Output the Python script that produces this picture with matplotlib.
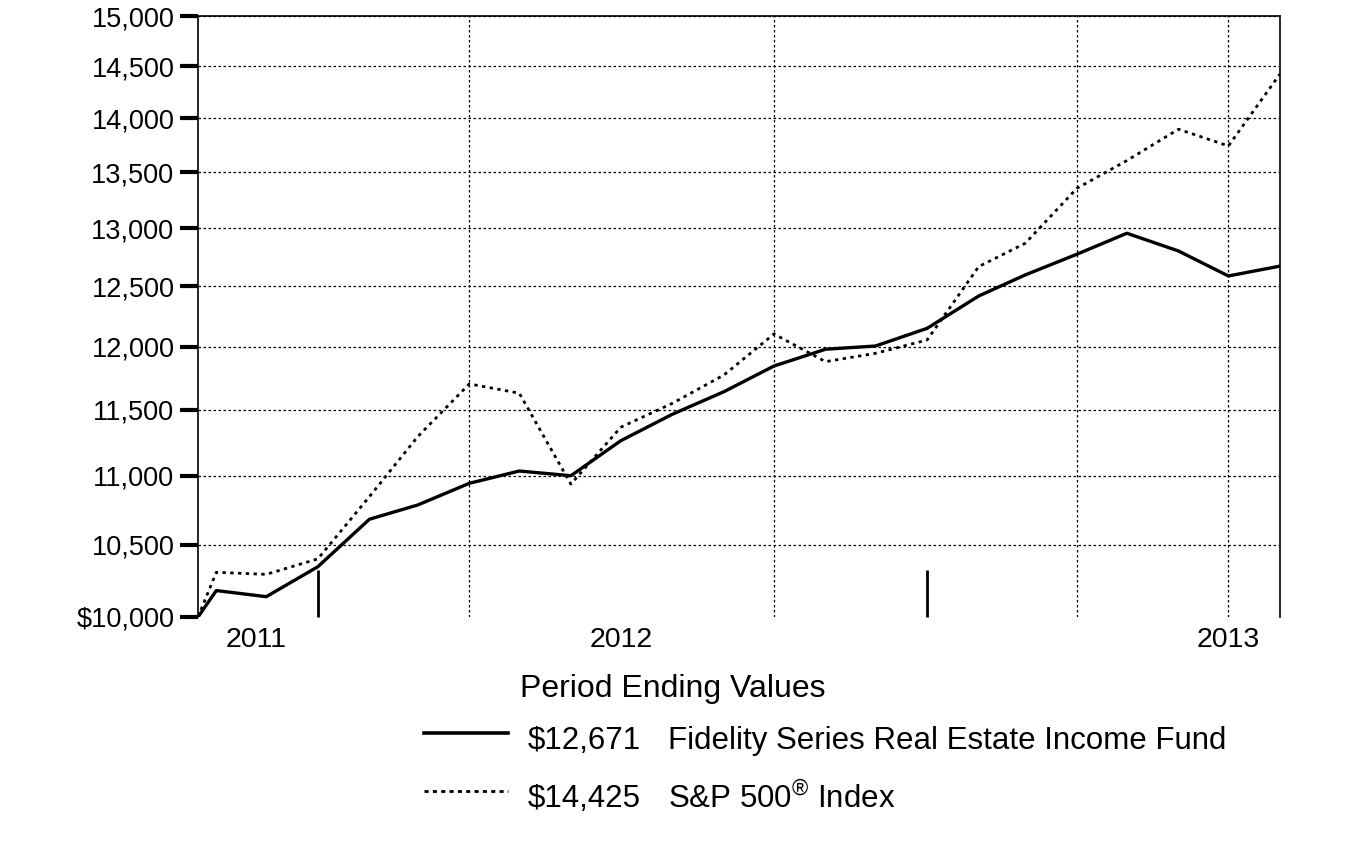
import matplotlib
matplotlib.use("Agg")
import matplotlib.pyplot as plt
import matplotlib.dates as mdates
from matplotlib.lines import Line2D
from matplotlib.ticker import FixedLocator, FuncFormatter
import pandas as pd

# ---- data -------------------------------------------------------
dates = pd.to_datetime(
    ["2011-10-20"]
    + [str(d.date()) for d in pd.date_range("2011-10-31", "2013-07-31", freq="ME")]
)

fund = [10000, 10180, 10138, 10345, 10682, 10785, 10944, 11035, 11000, 11263,
        11466, 11642, 11845, 11980, 12006, 12150, 12418, 12596, 12773, 12955,
        12801, 12587, 12671]
sp500 = [10000, 10306, 10292, 10400, 10846, 11294, 11703, 11630, 10938, 11366,
         11551, 11774, 12104, 11880, 11947, 12055, 12667, 12868, 13354, 13606,
         13897, 13741, 14425]

fund_name = "Fidelity Series Real Estate Income Fund"
index_name = r"S&P 500$^{\circledR}$ Index"

y_ticks = [10000, 10500, 11000, 11500, 12000, 12500, 13000, 13500, 14000, 14500, 15000]
grid_dates = pd.to_datetime(["2011-12-31", "2012-03-31", "2012-09-30",
                             "2012-12-31", "2013-03-31", "2013-06-30"])
year_ticks = pd.to_datetime(["2011-12-31", "2012-12-31"])
year_labels = ["2011", "2012", "2013"]
year_label_dates = pd.to_datetime(["2011-11-24", "2012-06-30", "2013-06-30"])

# ---- figure -----------------------------------------------------
plt.rcParams["font.family"] = ["Liberation Sans", "DejaVu Sans"]
plt.rcParams["mathtext.fontset"] = "custom"
plt.rcParams["mathtext.rm"] = "Liberation Sans"
plt.rcParams["mathtext.it"] = "Liberation Sans"

fig = plt.figure(figsize=(13.55, 8.43), dpi=100)
ax = fig.add_axes([198 / 1355, 1 - 617 / 843, (1280 - 198) / 1355, (617 - 16) / 843])

ax.plot(dates, fund, color="black", lw=2.4, solid_joinstyle="round", zorder=4)
ax.plot(dates, sp500, color="black", lw=2.0, linestyle=(0, (1.2, 1.6)), zorder=3)

ax.set_yscale("log")
ax.set_ylim(10000, 15000)
ax.set_xlim(dates[0], dates[-1])

ax.yaxis.set_major_locator(FixedLocator(y_ticks))
ax.yaxis.set_minor_locator(FixedLocator([]))
ax.yaxis.set_major_formatter(FuncFormatter(
    lambda v, _: f"${v:,.0f}" if v == 10000 else f"{v:,.0f}"))
ax.tick_params(axis="y", which="major", direction="out", length=13, width=3,
               labelsize=19.5, pad=4)

# x: long ticks at year ends, dotted grid at quarter ends
ax.xaxis.set_major_locator(FixedLocator(mdates.date2num(year_ticks)))
ax.xaxis.set_minor_locator(FixedLocator(mdates.date2num(grid_dates)))
ax.tick_params(axis="x", which="major", direction="in", length=34, width=2,
               labelbottom=False)
ax.tick_params(axis="x", which="minor", length=0)

ax.grid(True, axis="y", which="major", color="black", lw=0.9, linestyle=(0, (2, 2)))
ax.grid(True, axis="x", which="minor", color="black", lw=0.9, linestyle=(0, (2, 2)))
ax.set_axisbelow(True)
ax.yaxis.get_major_ticks()[0].gridline.set_visible(False)

ax.spines["bottom"].set_visible(False)
for s in ("left", "right", "top"):
    ax.spines[s].set_linewidth(1.2)

for lbl, d in zip(year_labels, year_label_dates):
    ax.text(d, -0.017, lbl, transform=ax.get_xaxis_transform(),
            ha="center", va="top", fontsize=20.5)

# ---- legend -----------------------------------------------------
fig.text(520 / 1355, 1 - 689 / 843, "Period Ending Values", fontsize=23,
         ha="left", va="center")

rows = [(fund, fund_name, "-", 2.6, 733), (sp500, index_name, (0, (1.5, 1.5)), 2.0, 791)]
for series, name, ls, lw, yp in rows:
    fy = 1 - yp / 843
    ty = 1 - (yp + 8) / 843
    fig.add_artist(Line2D([424 / 1355, 508 / 1355], [fy, fy], color="black",
                          lw=lw, linestyle=ls, transform=fig.transFigure))
    fig.text(528 / 1355, ty, f"${series[-1]:,.0f}", fontsize=22.5, ha="left", va="center")
    fig.text(668 / 1355, ty, name, fontsize=22.5, ha="left", va="center")

fig.savefig("out.png", dpi=100, facecolor="white")
